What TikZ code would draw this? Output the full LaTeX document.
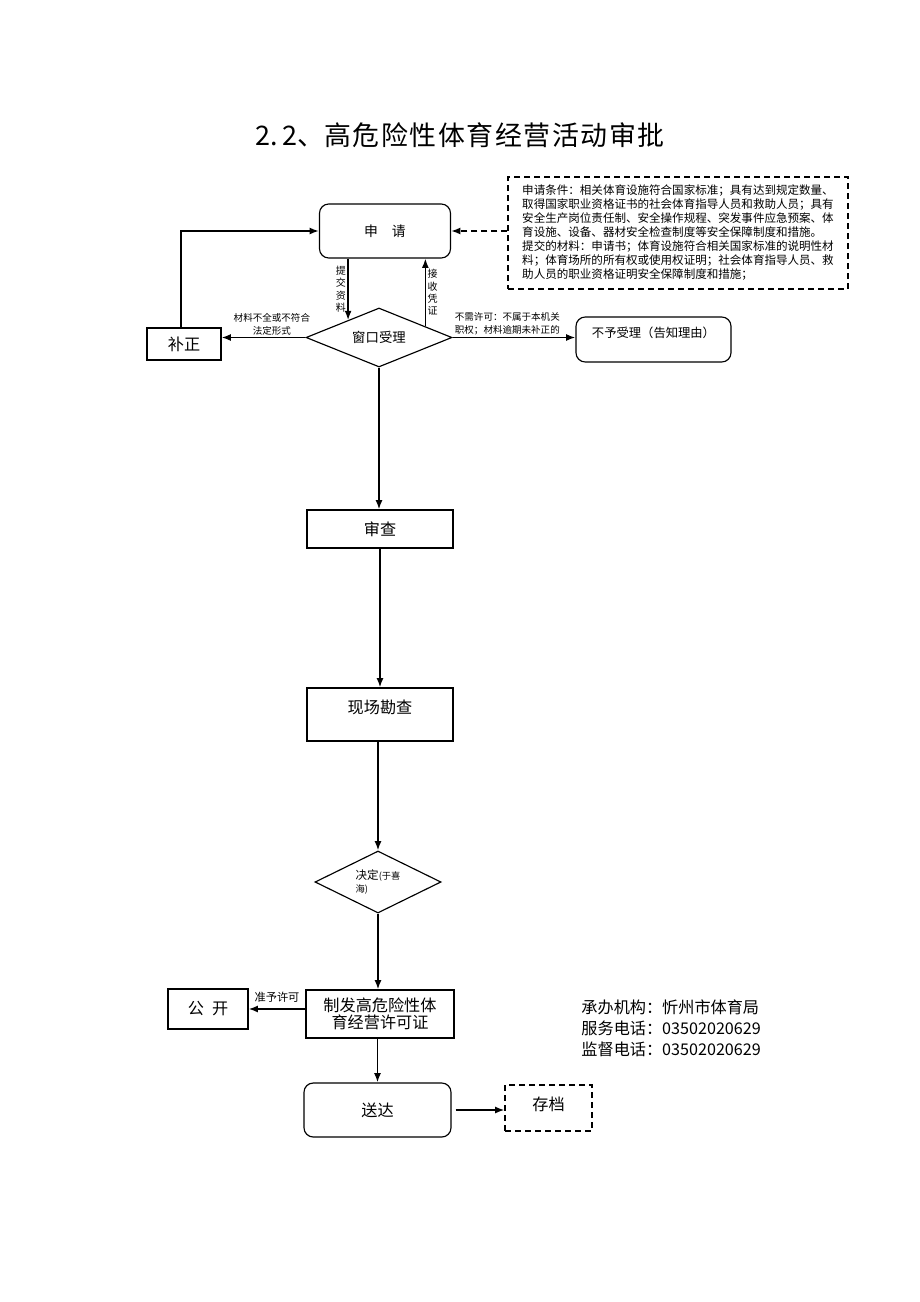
\documentclass[tikz,border=0pt]{standalone}
\usepackage{fontspec}
\setmainfont{Noto Sans CJK SC}
\usetikzlibrary{shapes.geometric,arrows.meta,calc}
\newlength{\pxu}\setlength{\pxu}{0.65pt}
\tikzset{
  box/.style={draw, rectangle, line width=0.75pt, inner sep=1pt,
    font=\fontsize{10.5}{11}\selectfont},
  rbox/.style={box, rounded corners=6pt},
  dbox/.style={box, dash pattern=on 4pt off 2.5pt},
  dec/.style={draw, diamond, aspect=2.4, line width=0.75pt, inner sep=1pt},
  arr/.style={line width=1pt, -{Latex[length=6pt,width=4.5pt]}},
  lab/.style={inner sep=1pt, font=\fontsize{6.2}{8.5}\selectfont},
  vlab/.style={lab, align=center, font=\fontsize{6.5}{8}\selectfont},
}

\begin{document}
\begin{tikzpicture}[x=\pxu, y=-\pxu]
  \useasboundingbox (0,0) rectangle (920,1302);

  \node[font=\fontsize{17.5}{20}\selectfont] (title) at (460,135)
    {2.\,2、高\kern1pt 危\kern1pt 险\kern1pt 性\kern1pt 体\kern1pt 育\kern1pt 经\kern1pt 营\kern1pt 活\kern1pt 动\kern1pt 审\kern1pt 批};

  % conditions and materials
  \node[dbox, minimum width=340*\pxu, minimum height=112*\pxu, align=left,
    font=\fontsize{7.5}{9.1}\selectfont] (tj) at (678,233)
    {申请条件：相关体育设施符合国家标准；具有达到规定数量、\\
     取得国家职业资格证书的社会体育指导人员和救助人员；具有\\
     安全生产岗位责任制、安全操作规程、突发事件应急预案、体\\
     育设施、设备、器材安全检查制度等安全保障制度和措施。\\
     提交的材料：申请书；体育设施符合相关国家标准的说明性材\\
     料；体育场所的所有权或使用权证明；社会体育指导人员、救\\
     助人员的职业资格证明安全保障制度和措施；};

  \node[rbox, minimum width=131*\pxu, minimum height=54*\pxu,
    font=\fontsize{9}{10}\selectfont] (sq) at (385,231) {申\quad 请};
  \node[dec, minimum width=146*\pxu, minimum height=59*\pxu,
    font=\fontsize{8.7}{10}\selectfont] (ck) at (379,337.5) {窗口受理};
  \node[box, minimum width=74*\pxu, minimum height=32*\pxu] (bz) at (184,344) {补正};
  \node[rbox, minimum width=155*\pxu, minimum height=45*\pxu,
    font=\fontsize{8}{9}\selectfont] (bsl) at (653.5,339.5)
    {\raisebox{15\pxu}{不予受理（告知理由）}};

  \node[box, minimum width=146*\pxu, minimum height=38*\pxu] (sc) at (380,529) {审查};
  \node[box, minimum width=146*\pxu, minimum height=53*\pxu] (xc) at (380,714.5)
    {\raisebox{15\pxu}{现场勘查}};
  \node[dec, minimum width=126*\pxu, minimum height=62*\pxu, align=left,
    font=\fontsize{7.5}{8.5}\selectfont] (jd) at (378,882)
    {决定{\fontsize{6}{8.5}\selectfont(于喜}\\{\fontsize{6}{8.5}\selectfont 海)}};
  \node[box, minimum width=148*\pxu, minimum height=48*\pxu, align=center] (zf)
    at (380,1014) {制发高危险性体\\育经营许可证};
  \node[box, minimum width=80*\pxu, minimum height=40*\pxu] (gk) at (208,1009)
    {公\enspace 开};
  \node[rbox, minimum width=147*\pxu, minimum height=54*\pxu] (sd) at (377.5,1110) {送达};
  \node[dbox, minimum width=87*\pxu, minimum height=46*\pxu] (cd) at (548.5,1108)
    {\raisebox{8\pxu}{存档}};

  \node[anchor=north west, align=left, font=\fontsize{10.5}{13.7}\selectfont] (info)
    at (576,994) {承办机构：忻州市体育局\\服务电话：03502020629\\监督电话：03502020629};

  % connectors
  \path ($(ck.north)!0.42!(ck.west)$) coordinate (ckin)
        ($(ck.north)!0.63!(ck.east)$) coordinate (ckout);
  \draw[arr] (sq.south -| ckin) -- node[vlab, anchor=east] {提\\交\\资\\料} (ckin);
  \draw[arr] (ckout) -- node[vlab, anchor=west] {接\\收\\凭\\证} (ckout |- sq.south);
  \draw[arr, dash pattern=on 4pt off 2.5pt] (tj.west |- sq.east) -- (sq.east);
  \draw[arr] (ck.west) -- node[lab, pos=0.4, above, align=center]
    {材料不全或不符合\\法定形式} (ck.west -| bz.east);
  \draw[arr] (ck.east) -- node[lab, pos=0, anchor=south west, align=left]
    {不需许可：不属于本机关\\职权；材料逾期未补正的} (ck.east -| bsl.west);
  \draw[arr] ([xshift=-3*\pxu]bz.north) |- (sq.west);

  \draw[arr] (ck.south) -- (ck.south |- sc.north);
  \draw[arr] (sc.south) -- (sc.south |- xc.north);
  \draw[arr] (jd.north |- xc.south) -- (jd.north);
  \draw[arr] (jd.south) -- (jd.south |- zf.north);
  \draw[arr] (zf.west |- gk.east) -- node[lab, above=3pt,
    font=\fontsize{7.3}{8}\selectfont] {准予许可} (gk.east);
  \draw[arr] (sd.north |- zf.south) -- (sd.north);
  \draw[arr] ([xshift=4*\pxu]sd.east) -- (cd.west |- sd.east);
\end{tikzpicture}
\end{document}
